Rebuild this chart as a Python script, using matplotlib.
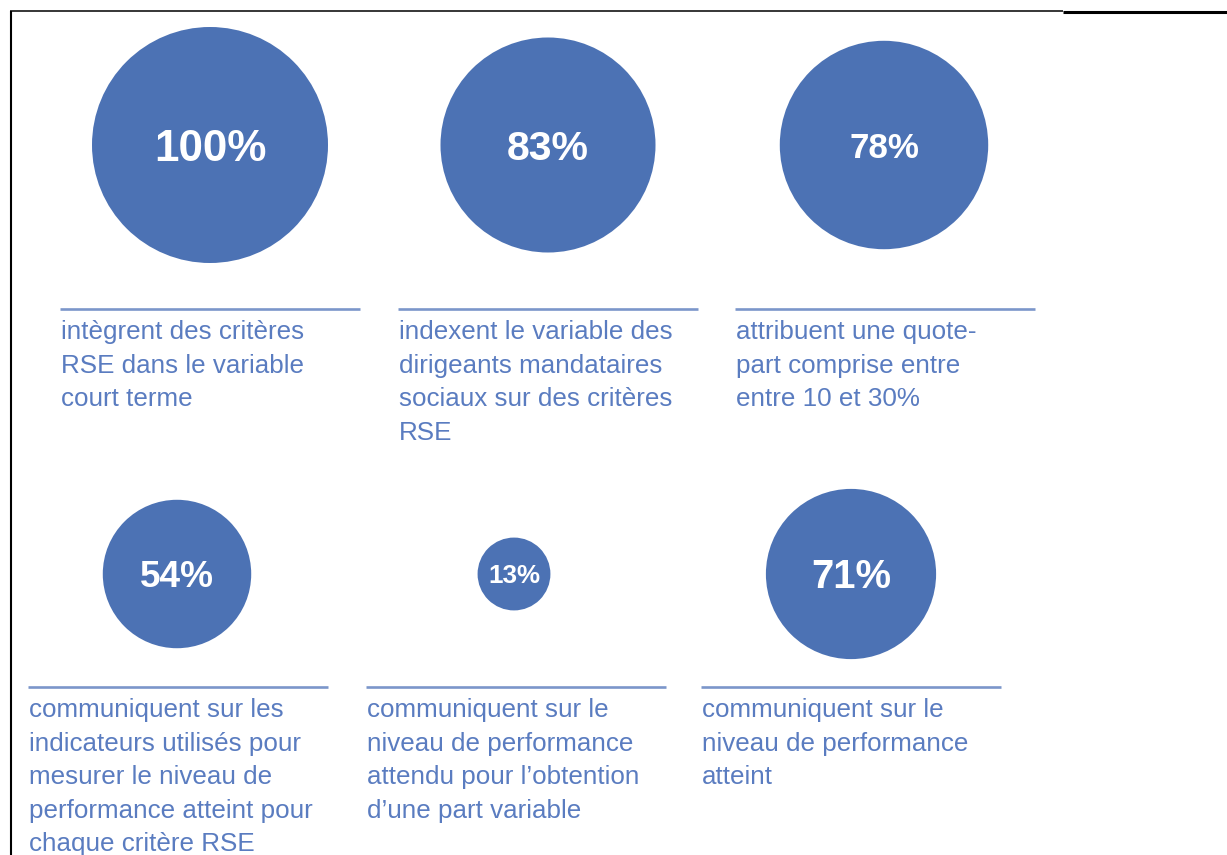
import matplotlib
matplotlib.use("Agg")
import matplotlib.pyplot as plt
import numpy as np
from matplotlib.patches import Circle

# data
values = [100, 83, 78, 54, 13, 71]
descriptions = [
    ["intègrent des critères", "RSE dans le variable", "court terme"],
    ["indexent le variable des", "dirigeants mandataires", "sociaux sur des critères", "RSE"],
    ["attribuent une quote-", "part comprise entre", "entre 10 et 30%"],
    ["communiquent sur les", "indicateurs utilisés pour", "mesurer le niveau de",
     "performance atteint pour", "chaque critère RSE"],
    ["communiquent sur le", "niveau de performance", "attendu pour l\u2019obtention",
     "d\u2019une part variable"],
    ["communiquent sur le", "niveau de performance", "atteint"],
]

# layout (pixel units, y downwards)
W, H = 1227, 855
row_of = [0, 0, 0, 1, 1, 1]
circle_x = [210, 548, 884, 177, 514, 851]
row_circle_y = [145, 574]
row_scale = [118, 101]          # radius of a 100% circle in each row
row_rule_y = [309, 687]
rule_x0 = [60, 398, 735, 28, 366, 701]
rule_len = 300
pct_px = [44, 41, 35, 37, 26, 40]   # label sizes in pixels
line_step = 33.5

CIRCLE = '#4C72B4'
TEXT = '#5A7CC0'
RULE = '#7B96CA'
PX = 0.72  # px -> pt at dpi 100

fig = plt.figure(figsize=(W / 100, H / 100), dpi=100)
ax = fig.add_axes([0, 0, 1, 1])
ax.set_xlim(0, W)
ax.set_ylim(H, 0)
ax.axis('off')

for i, v in enumerate(values):
    r = row_of[i]
    cx, cy = circle_x[i], row_circle_y[r]
    rad = row_scale[r] * np.sqrt(v / 100)
    ax.add_patch(Circle((cx, cy), rad, facecolor=CIRCLE, edgecolor='none'))
    fs = pct_px[i]
    ax.text(cx, cy + 0.36 * fs, f"{v}%", ha='center', va='baseline',
            color='white', fontsize=fs * PX, fontweight='bold',
            family='Liberation Sans')

    ry = row_rule_y[r]
    ax.plot([rule_x0[i], rule_x0[i] + rule_len], [ry, ry], color=RULE,
            lw=1.9, solid_capstyle='butt')
    for k, line in enumerate(descriptions[i]):
        ax.text(rule_x0[i] + 1, ry + 30 + k * line_step, line, ha='left',
                va='baseline', color=TEXT, fontsize=26 * PX,
                family='Liberation Sans')

# frame pieces
ax.plot([11, 11], [11, H], color='black', lw=1.5, solid_capstyle='butt')
ax.plot([10, 1063], [11, 11], color='black', lw=1.1, solid_capstyle='butt')
ax.plot([1063, W], [12, 12], color='black', lw=2.2, solid_capstyle='butt')

fig.savefig('out.png', dpi=100, facecolor='white')
